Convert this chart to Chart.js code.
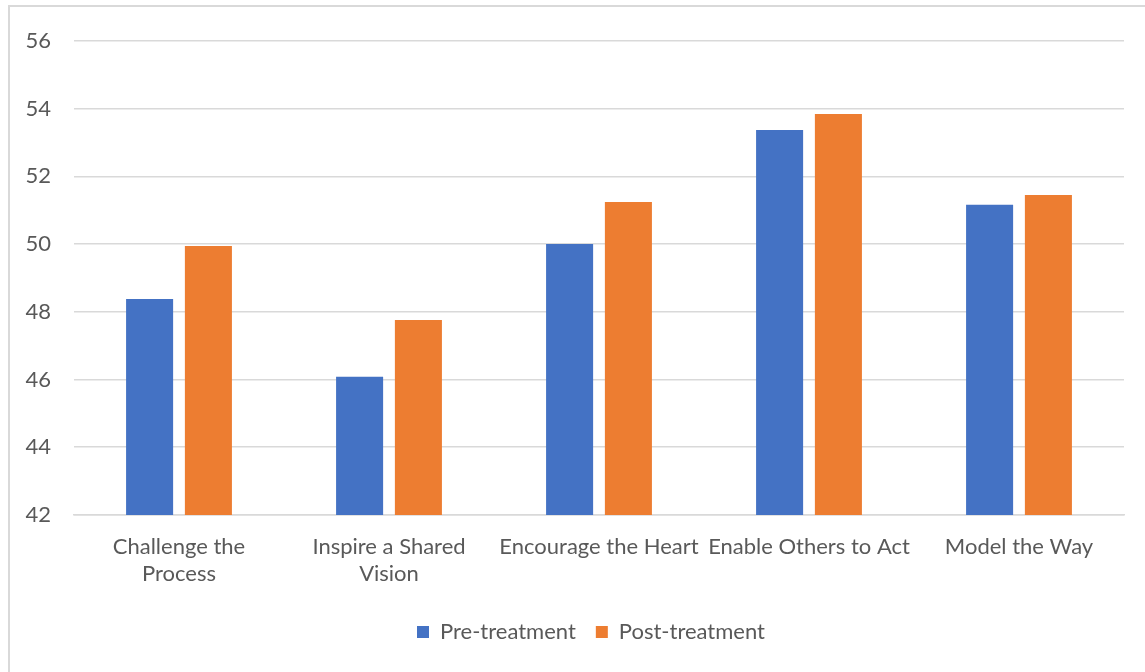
<!DOCTYPE html>
<html>
<head>
<meta charset="utf-8">
<script src="https://cdn.jsdelivr.net/npm/chart.js@4.4.1/dist/chart.umd.min.js"></script>
<style>
  html, body { margin: 0; padding: 0; background: #ffffff; overflow: hidden; }
  #wrap { position: relative; width: 1145px; height: 672px; }
  #frame { position: absolute; left: 8px; top: 5px; width: 1200px; height: 720px;
           border: 2px solid #d9d9d9; box-sizing: border-box; }
  canvas { position: absolute; left: 0; top: 0; }
</style>
</head>
<body>
<div id="wrap">
  <div id="frame"></div>
  <canvas id="c" width="1145" height="672"></canvas>
</div>
<script>
const categories = [
  ['Challenge the', 'Process'],
  ['Inspire a Shared', 'Vision'],
  'Encourage the Heart',
  'Enable Others to Act',
  'Model the Way'
];
const preTreatment = [48.38, 46.08, 50.00, 53.37, 51.16];
const postTreatment = [49.94, 47.76, 51.24, 53.84, 51.45];
const yTicks = [42, 44, 46, 48, 50, 52, 54, 56];

const FONT = 'Lato, "Open Sans", sans-serif';
const TEXT = '#595959';

// Nudge the legend block so it sits centred under the plot area.
const legendOffset = {
  id: 'legendOffset',
  afterLayout(chart) {
    const lg = chart.legend;
    if (!lg) return;
    const dx = 29, dy = 4;
    lg.left += dx; lg.right += dx;
    lg.top += dy; lg.bottom += dy;
  }
};

new Chart(document.getElementById('c'), {
  type: 'bar',
  data: {
    labels: categories,
    datasets: [
      { label: 'Pre-treatment', data: preTreatment, backgroundColor: '#4472C4',
        categoryPercentage: 0.56, barPercentage: 0.8 },
      { label: 'Post-treatment', data: postTreatment, backgroundColor: '#ED7D31',
        categoryPercentage: 0.56, barPercentage: 0.8 }
    ]
  },
  plugins: [legendOffset],
  options: {
    responsive: false,
    animation: false,
    layout: { padding: { left: 0, right: 21, top: 41, bottom: 23 } },
    plugins: {
      legend: {
        position: 'bottom',
        labels: {
          color: TEXT, font: { family: FONT, size: 22 },
          boxWidth: 12, boxHeight: 12, padding: 20
        }
      },
      tooltip: { enabled: false }
    },
    scales: {
      x: {
        grid: { display: false },
        border: { display: true, color: '#d9d9d9', width: 1.5 },
        ticks: { color: TEXT, font: { family: FONT, size: 22, lineHeight: 1.23 },
                 maxRotation: 0, autoSkip: false, padding: 10 }
      },
      y: {
        min: yTicks[0], max: yTicks[yTicks.length - 1],
        afterFit: (s) => { s.width = 74; },
        afterBuildTicks: (s) => { s.ticks = yTicks.map(v => ({ value: v })); },
        grid: { color: '#d9d9d9', lineWidth: 1.5, drawTicks: false },
        border: { display: false },
        ticks: { color: TEXT, font: { family: FONT, size: 22 }, padding: 23 }
      }
    }
  }
});
</script>
</body>
</html>
